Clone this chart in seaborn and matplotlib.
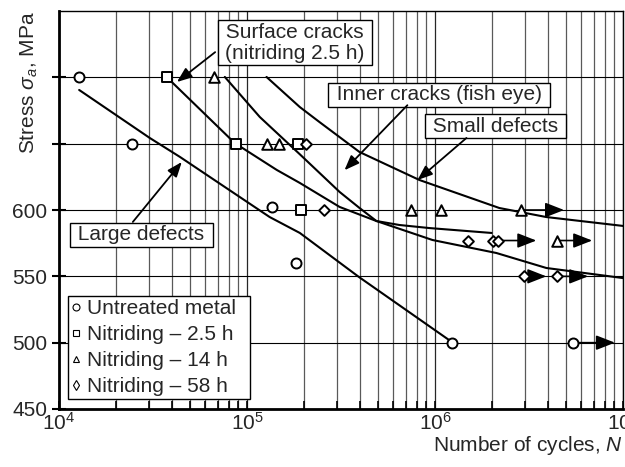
import matplotlib
matplotlib.use("Agg")
import matplotlib.pyplot as plt
from matplotlib.lines import Line2D
import seaborn as sns

# test points (cycles, stress MPa)
untreated_n = [1.28e4, 2.44e4, 1.36e5, 1.82e5, 1.23e6, 5.42e6]
untreated_s = [700, 650, 602, 560, 500, 500]
nit25_n = [3.75e4, 8.7e4, 1.86e5, 1.94e5]
nit25_s = [700, 650, 650, 600]
nit14_n = [6.67e4, 1.28e5, 1.48e5, 7.45e5, 1.07e6, 2.86e6, 4.47e6]
nit14_s = [700, 650, 650, 600, 600, 600, 577]
nit58_n = [2.05e5, 2.57e5, 1.5e6, 2.04e6, 2.16e6, 2.97e6, 4.47e6]
nit58_s = [650, 600, 577, 577, 577, 550, 550]

# run-outs (start, arrow tip, stress)
runout_n = [5.42e6, 2.86e6, 4.47e6, 2.16e6, 2.97e6, 4.47e6]
runout_end = [9.06e6, 4.86e6, 6.86e6, 3.46e6, 3.91e6, 6.53e6]
runout_s = [500, 600, 577, 577, 550, 550]

# S-N curves
large_n = [1.28e4, 3.04e4, 4.4e4, 1.32e5, 1.91e5, 3.94e5, 1.23e6]
large_s = [690.5, 654.3, 640, 594.7, 582.7, 549.5, 500.5]
surface_n = [3.98e4, 8.6e4, 1.44e5, 1.91e5, 3.11e5, 4.88e5, 9.69e5, 2.12e6, 3.91e6, 1e7]
surface_s = [696.5, 650.5, 630.2, 620.4, 602.3, 591.7, 577.4, 567.6, 556.3, 548.7]
inner_n = [7.62e4, 1.17e5, 1.91e5, 3.11e5, 3.97e5, 4.88e5, 6.47e5, 9.33e5, 2.0e6]
inner_s = [700.3, 670.1, 642, 613.6, 601.5, 591.7, 588.7, 586.4, 582.7]
small_n = [1.27e5, 1.91e5, 2.43e5, 3.97e5, 8.27e5, 2.2e6, 3.91e6, 1e7]
small_s = [700.3, 677.6, 666.3, 643.7, 622.6, 601.5, 594.7, 588]

legend_labels = ["Untreated metal  ", "Nitriding \u2013 2.5 h", "Nitriding \u2013 14 h", "Nitriding \u2013 58 h"]
y_ticks = [450, 500, 550, 600, 650, 700]
y_ticklabels = ["450", "500", "550", "600", "", ""]

sns.set_theme(style="white")
plt.rcParams["font.family"] = ["Liberation Sans", "DejaVu Sans"]
plt.rcParams["mathtext.fontset"] = "custom"
plt.rcParams["mathtext.rm"] = "Liberation Sans"
plt.rcParams["mathtext.it"] = "Liberation Sans:italic"
plt.rcParams["font.size"] = 15

fig = plt.figure(figsize=(6.25, 4.67), dpi=100)
ax = fig.add_axes([0.0944, 0.1242, 0.9024, 0.8522])
ax.set_xscale("log")
ax.set_xlim(1e4, 1e7)
ax.set_ylim(450, 750)

# grid
ax.grid(True, which="major", axis="y", color="black", lw=0.8, zorder=0)
ax.grid(True, which="major", axis="x", color="0.15", lw=0.9, zorder=0)
ax.grid(True, which="minor", axis="x", color="0.35", lw=0.9, zorder=0)
ax.set_axisbelow(True)

# curves
for cn, cs in [(large_n, large_s), (surface_n, surface_s), (inner_n, inner_s), (small_n, small_s)]:
    sns.lineplot(x=cn, y=cs, color="black", lw=1.5, sort=False, estimator=None, ax=ax, zorder=3)

# run-out arrows
for x0, x1, s in zip(runout_n, runout_end, runout_s):
    ax.annotate("", xy=(x1, s), xytext=(x0, s),
                arrowprops=dict(arrowstyle="-|>,head_length=1.15,head_width=0.45",
                                mutation_scale=10, color="black", lw=1.2,
                                shrinkA=0, shrinkB=0), zorder=4)

# markers
groups = [(untreated_n, untreated_s, "o", 52), (nit25_n, nit25_s, "s", 44),
          (nit14_n, nit14_s, "^", 58), (nit58_n, nit58_s, "D", 30)]
for gn, gs, mk, sz in groups:
    sns.scatterplot(x=gn, y=gs, marker=mk, s=sz, facecolor="white", edgecolor="black",
                    linewidth=1.4, ax=ax, zorder=5)

# text boxes with arrows
box = dict(boxstyle="square,pad=0.12", fc="white", ec="black", lw=1)
ax.text(0.418, 0.920, " Surface cracks \n(nitriding 2.5 h)", transform=ax.transAxes,
        ha="center", va="center", bbox=box, zorder=6, linespacing=1.15)
ax.text(0.674, 0.790, " Inner cracks (fish eye) ", transform=ax.transAxes,
        ha="center", va="center", bbox=box, zorder=6)
ax.text(0.774, 0.710, " Small defects ", transform=ax.transAxes,
        ha="center", va="center", bbox=box, zorder=6)
ax.text(0.146, 0.438, " Large defects ", transform=ax.transAxes,
        ha="center", va="center", bbox=box, zorder=6)

arrow = dict(arrowstyle="-|>,head_length=0.9,head_width=0.35", mutation_scale=10,
             color="black", lw=1.3, shrinkA=0, shrinkB=0)
ax.annotate("", xy=(4.24e4, 696.5), xytext=(6.77e4, 719), arrowprops=arrow, zorder=6)
ax.annotate("", xy=(4.5e4, 636.2), xytext=(2.47e4, 591), arrowprops=arrow, zorder=6)
ax.annotate("", xy=(3.3e5, 630), xytext=(7.13e5, 679), arrowprops=arrow, zorder=6)
ax.annotate("", xy=(8.07e5, 622.6), xytext=(1.47e6, 654.3), arrowprops=arrow, zorder=6)

# legend
handles = [Line2D([], [], ls="none", marker=m, ms=5, mfc="white", mec="black", mew=0.8)
           for m in ["o", "s", "^", "d"]]
leg = ax.legend(handles, legend_labels, loc="lower left", bbox_to_anchor=(0.016, 0.025),
                handlelength=0.5, handletextpad=0.25, borderpad=0.15, labelspacing=0.33,
                borderaxespad=0, fancybox=False, framealpha=1, edgecolor="black", fontsize=15)
leg.get_frame().set_linewidth(1)
leg.set_zorder(7)

# axes, ticks
ax.set_yticks(y_ticks)
ax.set_yticklabels(y_ticklabels)
ax.tick_params(axis="y", which="major", direction="inout", length=10, width=1.5,
               color="black", labelsize=15, left=True)
ax.tick_params(axis="x", which="both", direction="in", length=6, width=1.2,
               color="black", labelsize=15, bottom=True, pad=2)
for side in ["left", "bottom"]:
    ax.spines[side].set_linewidth(2)
    ax.spines[side].set_color("black")
for side in ["top", "right"]:
    ax.spines[side].set_linewidth(1)
    ax.spines[side].set_color("black")

ax.set_xlabel("Number of cycles, $N$", loc="right", fontsize=15, labelpad=0)
ax.set_ylabel("Stress $\\sigma_a$, MPa", loc="top", fontsize=15)
ax.yaxis.set_label_coords(-0.034, 1.0)

fig.savefig("out.png", dpi=100)
